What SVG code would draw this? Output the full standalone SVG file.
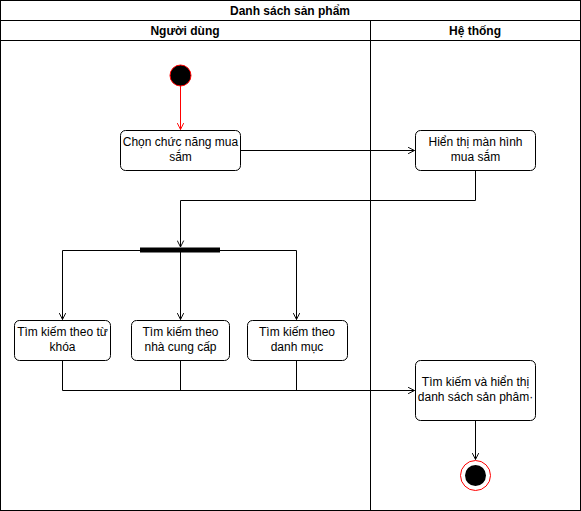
<svg xmlns="http://www.w3.org/2000/svg" width="581" height="511" viewBox="0 0 581 511">
  <defs>
    <style>
      text { font-family: "Liberation Sans", Arial, sans-serif; font-size: 12px; fill: #000; text-anchor: middle; }
      .hdr { font-weight: bold; }
      .frame { fill: #fff; stroke: #000; stroke-width: 1; }
      .act { fill: #fff; stroke: #000; stroke-width: 1; }
      .edge { fill: none; stroke: #000; stroke-width: 1; }
      .edge-red { fill: none; stroke: #ff0000; stroke-width: 1; }
    </style>
    <marker id="arr" viewBox="0 0 10 10" refX="9" refY="5" markerWidth="8" markerHeight="8" orient="auto" markerUnits="userSpaceOnUse">
      <path d="M1,1 L9,5 L1,9" fill="none" stroke="#000" stroke-width="1.2"/>
    </marker>
    <marker id="arr-red" viewBox="0 0 10 10" refX="9" refY="5" markerWidth="8" markerHeight="8" orient="auto" markerUnits="userSpaceOnUse">
      <path d="M1,1 L9,5 L1,9" fill="none" stroke="#ff0000" stroke-width="1.2"/>
    </marker>
  </defs>

  <!-- pool and lanes -->
  <g id="pool">
    <rect class="frame" x="0.5" y="0.5" width="580" height="510"/>
    <line class="edge" x1="0.5" y1="20.5" x2="580.5" y2="20.5"/>
    <line class="edge" x1="0.5" y1="40.5" x2="580.5" y2="40.5"/>
    <line class="edge" x1="370.5" y1="20.5" x2="370.5" y2="510.5"/>
    <text class="hdr" x="290" y="15">Danh sách sản phẩm</text>
    <text class="hdr" x="185" y="35">Người dùng</text>
    <text class="hdr" x="475" y="35">Hệ thống</text>
  </g>

  <!-- connectors -->
  <g id="connectors">
    <line class="edge-red" x1="180.5" y1="86" x2="180.5" y2="129.5" marker-end="url(#arr-red)"/>
    <line class="edge" x1="240" y1="150.5" x2="414.5" y2="150.5" marker-end="url(#arr)"/>
    <polyline class="edge" points="475.5,170 475.5,200.5 180.5,200.5 180.5,247" marker-end="url(#arr)"/>
    <polyline class="edge" points="140,250.5 62.5,250.5 62.5,319.5" marker-end="url(#arr)"/>
    <line class="edge" x1="180.5" y1="252" x2="180.5" y2="319.5" marker-end="url(#arr)"/>
    <polyline class="edge" points="220,250.5 296.5,250.5 296.5,319.5" marker-end="url(#arr)"/>
    <polyline class="edge" points="62.5,360 62.5,390.5 414.5,390.5" marker-end="url(#arr)"/>
    <line class="edge" x1="180.5" y1="360" x2="180.5" y2="390.5"/>
    <line class="edge" x1="296.5" y1="360" x2="296.5" y2="390.5"/>
    <line class="edge" x1="475.5" y1="420" x2="475.5" y2="459.5" marker-end="url(#arr)"/>
  </g>

  <g id="start">
    <circle cx="180.5" cy="75.5" r="10.5" fill="#000" stroke="#ff0000" stroke-width="1"/>
  </g>

  <g id="choose-shopping">
    <rect class="act" x="120.5" y="130.5" width="120" height="40" rx="5"/>
    <text x="180.5" y="146">Chọn chức năng mua</text>
    <text x="180.5" y="161">sắm</text>
  </g>

  <g id="show-shopping-screen">
    <rect class="act" x="415.5" y="130.5" width="120" height="40" rx="5"/>
    <text x="475.5" y="146">Hiển thị màn hình</text>
    <text x="475.5" y="161">mua sắm</text>
  </g>

  <g id="fork">
    <rect x="140" y="247.5" width="80" height="5" fill="#000"/>
  </g>

  <g id="search-keyword">
    <rect class="act" x="14.5" y="320.5" width="96" height="40" rx="5"/>
    <text x="62.5" y="336">Tìm kiếm theo từ</text>
    <text x="62.5" y="351">khóa</text>
  </g>

  <g id="search-supplier">
    <rect class="act" x="131.5" y="320.5" width="98" height="40" rx="5"/>
    <text x="180.5" y="336">Tìm kiếm theo</text>
    <text x="180.5" y="351">nhà cung cấp</text>
  </g>

  <g id="search-category">
    <rect class="act" x="247.5" y="320.5" width="100" height="40" rx="5"/>
    <text x="297" y="336">Tìm kiếm theo</text>
    <text x="297" y="351">danh mục</text>
  </g>

  <g id="search-and-list">
    <rect class="act" x="415.5" y="360.5" width="120" height="60" rx="5"/>
    <text x="475.5" y="386">Tìm kiếm và hiển thị</text>
    <text x="475.5" y="401">danh sách sản phâm·</text>
  </g>

  <g id="end">
    <circle cx="475.5" cy="475.5" r="15" fill="#fff" stroke="#ff0000" stroke-width="1"/>
    <circle cx="475.5" cy="475.5" r="10.5" fill="#000"/>
  </g>
</svg>
